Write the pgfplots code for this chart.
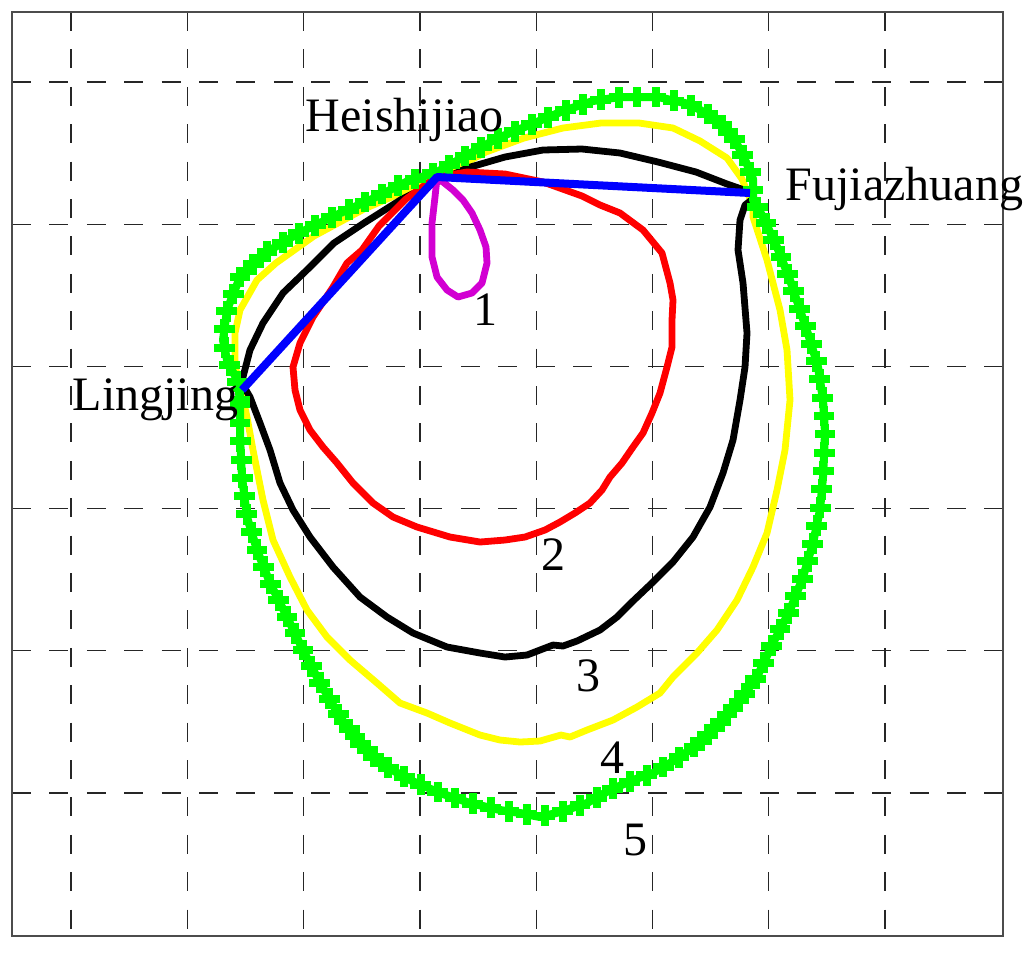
\documentclass[border=0pt]{standalone}
\usepackage{fontspec}
\setmainfont{Liberation Serif}
\usepackage{pgfplots}
\pgfplotsset{compat=1.18}
\usetikzlibrary{decorations.markings}
\definecolor{mag}{RGB}{210,0,210}
\definecolor{ylw}{RGB}{255,255,0}
\definecolor{grn}{RGB}{0,255,0}
\tikzset{lbl/.style={font=\fontsize{12}{14}\selectfont, inner sep=0pt},
  hbar/.style={fill=grn, draw=none, inner sep=0pt, minimum width=5.2pt, minimum height=2pt},
  vbar/.style={fill=grn, draw=none, inner sep=0pt, minimum width=2pt, minimum height=5.2pt}}
\begin{document}
\begin{tikzpicture}
\begin{axis}[
  scale only axis, width=247.75pt, height=231pt,
  xmin=12, xmax=1003, ymin=12, ymax=936, y dir=reverse,
  axis line style={black!70, line width=0.45pt},
  xtick={71,187.3,303.6,419.9,536.1,652.4,768.7,885},
  ytick={82,224.2,366.4,508.6,650.8,793},
  xticklabels={}, yticklabels={},
  major tick length=0pt,
  grid=major,
  major grid style={black!85, line width=0.3pt, dash pattern=on 4.75pt off 4.6pt},
  clip=false,
]
% 4 yellow
\addplot[ylw, line width=1.7pt, line join=round] coordinates {
(240,385) (236,370) (235,360) (235,333) (240,310) (257,280) (276,263) (314,236) (364,209) (410,189) (448,172) (486,152) (524,138) (563,128) (601,123) (639,123) (673,128) (700,141) (727,158) (742,179) (753,206) (753,217) (767,260) (780,310) (787,350) (790,400) (785,450) (777,490) (767,533) (753,567) (737,600) (717,630) (697,653) (673,677) (660,693) (637,707) (613,720) (587,730) (570,737) (561,735) (540,741) (520,742) (500,740) (480,735) (450,723) (427,713) (400,703) (377,683) (350,660) (327,637) (307,610) (290,577) (273,540) (263,500) (253,450) (247,417) (240,385)};
% 3 black
\addplot[black, line width=1.7pt, line join=round] coordinates {
(243,385) (243,377) (250,350) (263,323) (283,293) (310,267) (334,243) (364,223) (402,199) (437,182) (467,168) (505,157) (543,150) (582,149) (620,153) (658,162) (696,172) (727,184) (750,192) (754,198) (745,205) (740,220) (738,250) (743,283) (747,333) (745,367) (740,400) (733,440) (723,473) (710,507) (693,537) (673,562) (653,582) (633,601) (617,617) (600,630) (577,641) (563,646) (553,645) (527,655) (505,657) (480,653) (447,647) (413,633) (387,617) (360,597) (333,567) (310,537) (293,510) (280,483) (270,450) (260,423) (250,397) (243,385)};
% 2 red
\addplot[red, line width=1.7pt, line join=round] coordinates {
(437,177) (467,172) (505,174) (543,182) (582,196) (600,205) (620,213) (643,230) (662,253) (670,283) (673,300) (672,320) (672,347) (667,367) (660,393) (652,413) (643,433) (633,447) (622,463) (610,477) (602,490) (590,503) (575,513) (560,522) (545,530) (525,537) (505,540) (480,542) (450,537) (417,527) (393,517) (373,503) (353,483) (337,463) (323,447) (310,430) (300,410) (295,390) (293,367) (300,343) (313,317) (333,287) (347,263) (362,250) (379,226) (406,199) (425,185) (437,177)};
% 5 green
\addplot[grn, line width=2pt, line join=round, postaction={decorate},
  decoration={markings, mark=between positions 0 and 1 step 4.6pt with {\node[hbar]{}; \node[vbar]{};}}] coordinates {
(240,400) (237,380) (227,360) (223,340) (227,310) (240,277) (265,253) (299,233) (334,216) (372,199) (406,182) (437,172) (467,155) (498,138) (532,124) (563,111) (593,101) (620,97) (658,97) (689,104) (715,118) (734,138) (746,162) (753,179) (753,200) (763,217) (777,247) (790,280) (800,310) (810,340) (818,367) (823,400) (825,433) (823,477) (820,510) (813,543) (803,577) (790,610) (773,643) (757,677) (740,700) (718,725) (697,745) (675,760) (653,773) (633,780) (610,790) (587,803) (560,812) (540,817) (520,813) (500,810) (470,803) (440,793) (410,780) (380,763) (360,743) (340,717) (320,683) (303,650) (287,617) (270,583) (257,550) (247,517) (242,477) (240,437) (240,400)};
% 1 magenta
\addplot[mag, line width=1.7pt, line join=round] coordinates {
(437,178) (435,197) (432,223) (432,257) (437,277) (447,290) (458,297) (472,293) (482,283) (487,263) (486,247) (480,230) (472,213) (463,200) (453,190) (443,182) (437,178)};
% blue triangle legs
\addplot[blue, line width=2pt, line join=round] coordinates {(242,390) (437,177) (750,193)};
\node[lbl, anchor=base west] at (axis cs:305,131) {Heishijiao};
\node[lbl, anchor=base west] at (axis cs:785,200) {Fujiazhuang};
\node[lbl, anchor=base west] at (axis cs:72,410) {Lingjing};
\node[lbl] at (axis cs:485,310) {1};
\node[lbl] at (axis cs:553,555) {2};
\node[lbl] at (axis cs:588,676) {3};
\node[lbl] at (axis cs:612,758) {4};
\node[lbl] at (axis cs:635,840) {5};
\coordinate (bl) at (axis cs:0,956);
\coordinate (tr) at (axis cs:1024,0);
\end{axis}
\pgfresetboundingbox
\useasboundingbox (bl) rectangle (tr);
\end{tikzpicture}
\end{document}
